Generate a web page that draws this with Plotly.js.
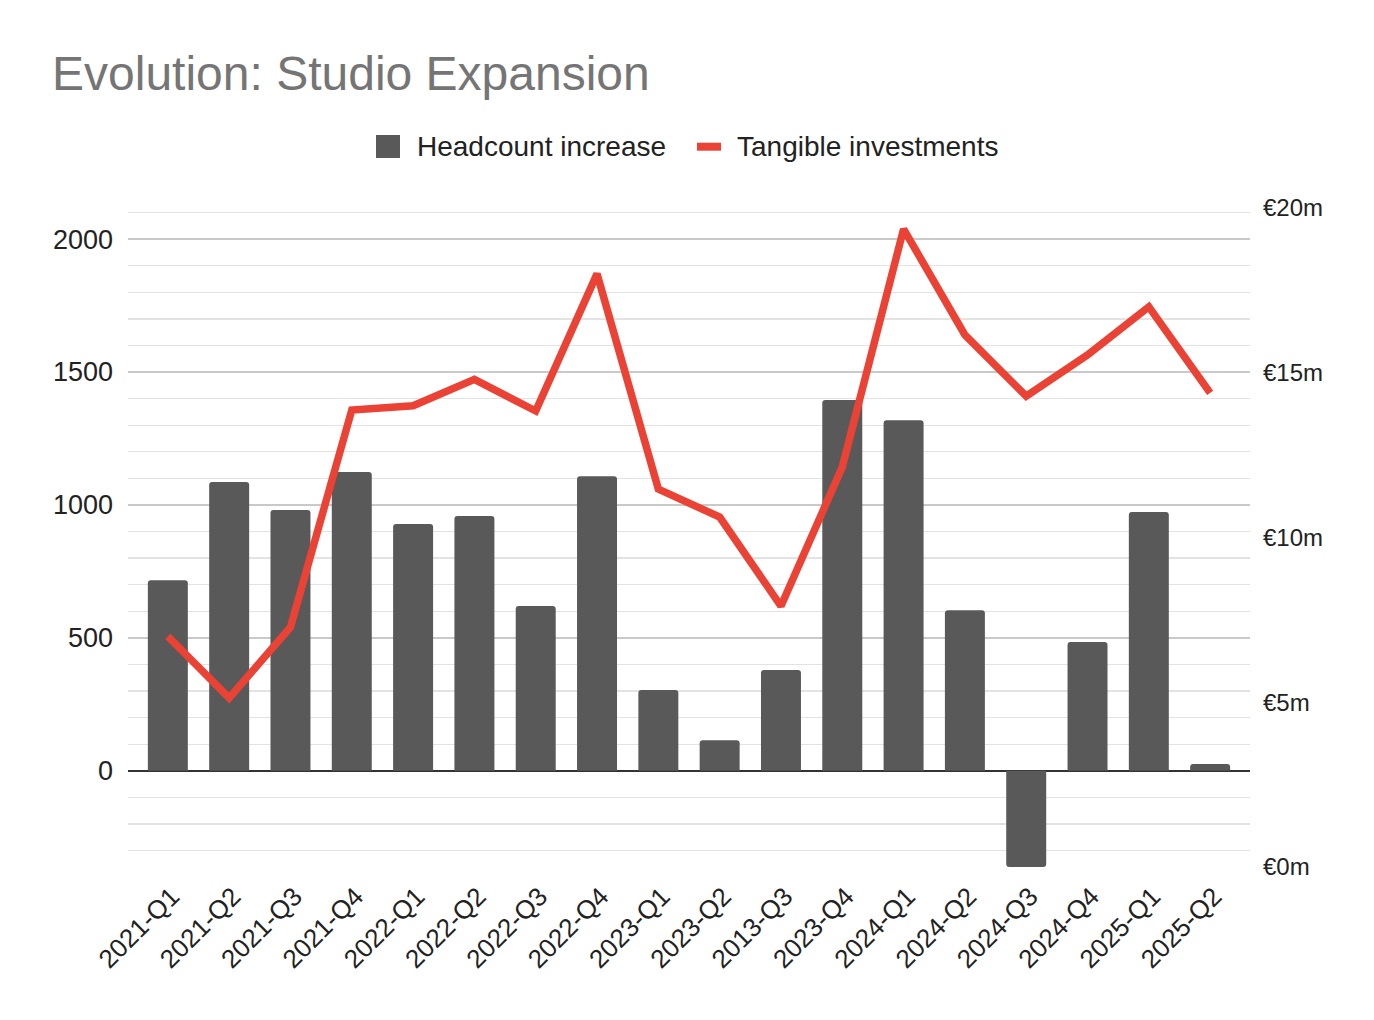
<!DOCTYPE html>
<html>
<head>
<meta charset="utf-8">
<script src="https://cdn.plot.ly/plotly-3.0.1.min.js"></script>
<style>
html,body{margin:0;padding:0;background:#fff;}
#chart{width:1374px;height:1020px;}
</style>
</head>
<body>
<div id="chart"></div>
<script>
const quarters = ['2021-Q1','2021-Q2','2021-Q3','2021-Q4','2022-Q1','2022-Q2','2022-Q3','2022-Q4','2023-Q1','2023-Q2','2013-Q3','2023-Q4','2024-Q1','2024-Q2','2024-Q3','2024-Q4','2025-Q1','2025-Q2'];
const headcountIncrease = [717, 1086, 981, 1124, 928, 958, 620, 1108, 304, 115, 379, 1395, 1319, 604, -362, 484, 973, 25];
const tangibleInvestments = [7.0, 5.13, 7.28, 13.87, 14.0, 14.8, 13.84, 18.0, 11.47, 10.62, 7.92, 12.14, 19.36, 16.15, 14.29, 15.54, 17.0, 14.39];
const seriesNames = ['Headcount increase', 'Tangible investments'];
const rightTicks = [0, 5, 10, 15, 20];
const rightTickLabels = rightTicks.map(v => '€' + v + 'm');

const FONT = '"Liberation Sans", Arial, Helvetica, sans-serif';
const BAR_COLOR = '#595959';
const LINE_COLOR = '#EA4335';

// plot area in pixels (for placing the legend in paper coordinates)
const W = 1374, H = 1020;
const M = {l: 128, r: 124, t: 208, b: 153};
const PW = W - M.l - M.r, PH = H - M.t - M.b;
const px = x => (x - M.l) / PW;
const py = y => (H - M.b - y) / PH;

const traces = [
  {
    type: 'bar',
    name: seriesNames[0],
    x: quarters,
    y: headcountIncrease,
    marker: {color: BAR_COLOR},
    width: 0.652,
    yaxis: 'y',
    showlegend: false
  },
  {
    type: 'scatter',
    mode: 'lines',
    name: seriesNames[1],
    x: quarters,
    y: tangibleInvestments,
    line: {color: LINE_COLOR, width: 7.5},
    yaxis: 'y2',
    showlegend: false
  }
];

const layout = {
  width: W,
  height: H,
  paper_bgcolor: '#ffffff',
  plot_bgcolor: '#ffffff',
  font: {family: FONT, color: '#222222'},
  margin: M,
  barcornerradius: 3,
  showlegend: false,
  title: {
    text: 'Evolution: Studio Expansion',
    font: {family: FONT, size: 48, color: '#757575'},
    xref: 'container', x: 52 / W, xanchor: 'left',
    yref: 'container', y: 1 - 73 / H, yanchor: 'middle'
  },
  shapes: [
    {type: 'rect', xref: 'paper', yref: 'paper', layer: 'above',
     x0: px(376), x1: px(400), y0: py(158), y1: py(135),
     fillcolor: BAR_COLOR, line: {width: 0}},
    {type: 'line', xref: 'paper', yref: 'paper', layer: 'above',
     x0: px(697), x1: px(721), y0: py(146.7), y1: py(146.7),
     line: {color: LINE_COLOR, width: 8}}
  ],
  annotations: [
    {text: seriesNames[0], xref: 'paper', yref: 'paper', x: px(415), y: py(146),
     xanchor: 'left', yanchor: 'middle', showarrow: false,
     font: {family: FONT, size: 28, color: '#222222'}},
    {text: seriesNames[1], xref: 'paper', yref: 'paper', x: px(735), y: py(146),
     xanchor: 'left', yanchor: 'middle', showarrow: false,
     font: {family: FONT, size: 28, color: '#222222'}}
  ],
  xaxis: {
    type: 'category',
    range: [-0.65, 17.65],
    tickangle: -45,
    tickfont: {family: FONT, size: 26, color: '#222222'},
    showgrid: false,
    zeroline: false,
    showline: false,
    ticks: '',
    ticklabelstandoff: 8,
    ticklabelshift: 4
  },
  yaxis: {
    range: [-362, 2117],
    tick0: 0,
    dtick: 500,
    tickfont: {family: FONT, size: 27, color: '#222222'},
    showgrid: true,
    gridcolor: '#c9c9c9',
    gridwidth: 1.5,
    minor: {dtick: 100, tick0: 0, showgrid: true, gridcolor: '#e3e3e3', gridwidth: 1.3},
    zeroline: true,
    zerolinecolor: '#333333',
    zerolinewidth: 2,
    showline: false,
    ticks: '',
    ticklabelstandoff: 14
  },
  yaxis2: {
    overlaying: 'y',
    side: 'right',
    range: [0, 20],
    tickvals: rightTicks,
    ticktext: rightTickLabels,
    tickfont: {family: FONT, size: 24, color: '#222222'},
    showgrid: false,
    zeroline: false,
    showline: false,
    ticks: '',
    ticklabelstandoff: 12
  }
};

Plotly.newPlot('chart', traces, layout, {displayModeBar: false, staticPlot: true});
</script>
</body>
</html>
